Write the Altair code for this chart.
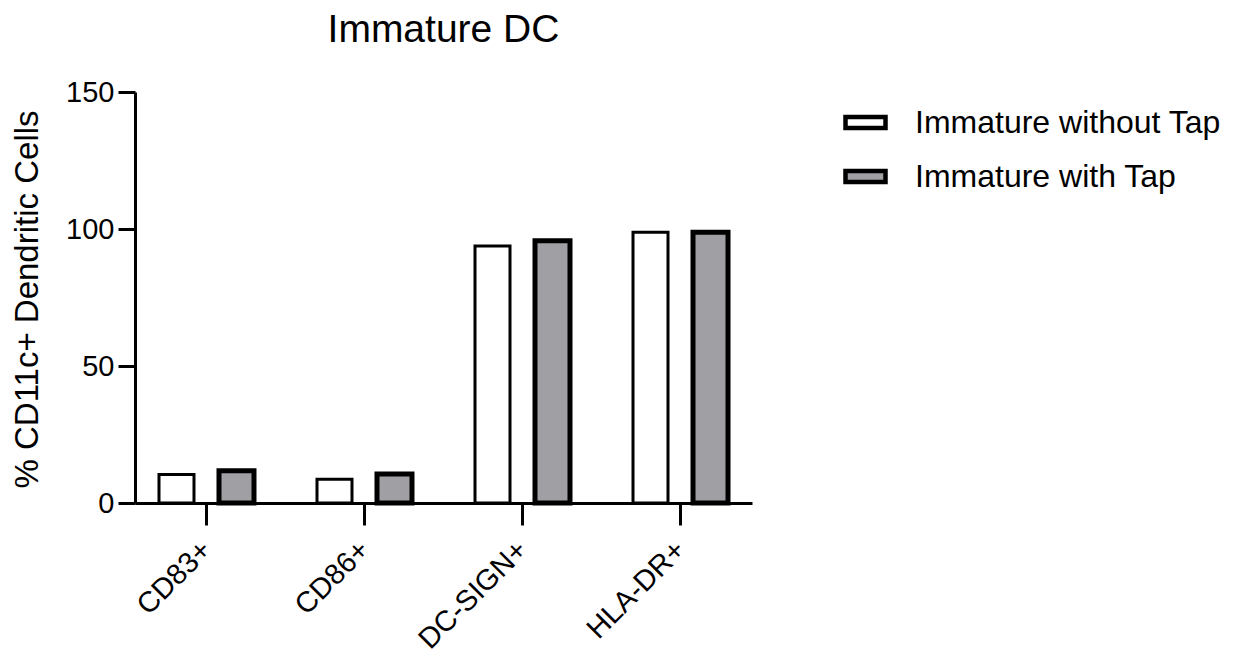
import altair as alt
import pandas as pd

# Surface markers on CD11c+ immature dendritic cells, two culture conditions
markers = ["CD83+", "CD86+", "DC-SIGN+", "HLA-DR+"]
groups = ["Immature without Tap", "Immature with Tap"]
without_tap = [10.4, 8.7, 93.8, 98.8]
with_tap = [11.8, 10.6, 95.7, 98.8]

rows = []
for m, a, b in zip(markers, without_tap, with_tap):
    rows.append({"marker": m, "group": groups[0], "pct": a})
    rows.append({"marker": m, "group": groups[1], "pct": b})
df = pd.DataFrame(rows)

FONT = "Liberation Sans"
GRAY = "#a09fa4"

bars = alt.Chart(df).mark_bar(stroke="black").encode(
    x=alt.X(
        "marker:N",
        sort=markers,
        scale=alt.Scale(paddingInner=0.095, paddingOuter=0),
        axis=alt.Axis(
            title=None,
            labelAngle=-45,
            labelAlign="right",
            labelBaseline="middle",
            labelPadding=20,
            labelFontSize=29,
            labelFont=FONT,
            labelColor="black",
            tickSize=22,
            tickWidth=3,
            tickColor="black",
            domainWidth=3,
            domainColor="black",
            grid=False,
        ),
    ),
    xOffset=alt.XOffset(
        "group:N",
        sort=groups,
        scale=alt.Scale(paddingInner=0.4167, paddingOuter=0.4),
    ),
    y=alt.Y(
        "pct:Q",
        scale=alt.Scale(domain=[0, 150], nice=False),
        axis=alt.Axis(
            values=[0, 50, 100, 150],
            title="% CD11c+ Dendritic Cells",
            titleFont=FONT,
            titleFontSize=33,
            titleFontWeight="normal",
            titleColor="black",
            titleAngle=-90,
            titleX=-108,
            titleY=207,
            titleAlign="center",
            titleBaseline="middle",
            labelFont=FONT,
            labelFontSize=29,
            labelColor="black",
            labelPadding=4,
            tickSize=17,
            tickWidth=3,
            tickColor="black",
            domainWidth=3,
            domainColor="black",
            grid=False,
        ),
    ),
    fill=alt.Fill(
        "group:N",
        sort=groups,
        scale=alt.Scale(domain=groups, range=["white", GRAY]),
        legend=alt.Legend(
            title=None,
            orient="none",
            legendX=708,
            legendY=8,
            padding=0,
            symbolType="M-1,-0.27L1,-0.27L1,0.27L-1,0.27Z",
            symbolSize=1600,
            symbolStrokeColor="black",
            symbolStrokeWidth=4.5,
            labelFont=FONT,
            labelFontSize=32,
            labelColor="black",
            labelOffset=27,
            rowPadding=15,
            labelLimit=500,
        ),
    ),
    strokeWidth=alt.condition(
        alt.datum.group == groups[0], alt.value(3), alt.value(5)
    ),
)

chart = (
    bars.properties(
        width=617,
        height=411,
        title=alt.TitleParams(
            "Immature DC",
            font=FONT,
            fontSize=39,
            fontWeight="normal",
            color="black",
            anchor="middle",
            frame="group",
            offset=28,
        ),
        autosize=alt.AutoSizeParams(type="none"),
        padding={"left": 135, "top": 92, "right": 507, "bottom": 149},
    )
    .configure(background="white", view=alt.ViewConfig(stroke=None))
)

chart.save("out.html", embed_options={"renderer": "svg", "actions": False})
